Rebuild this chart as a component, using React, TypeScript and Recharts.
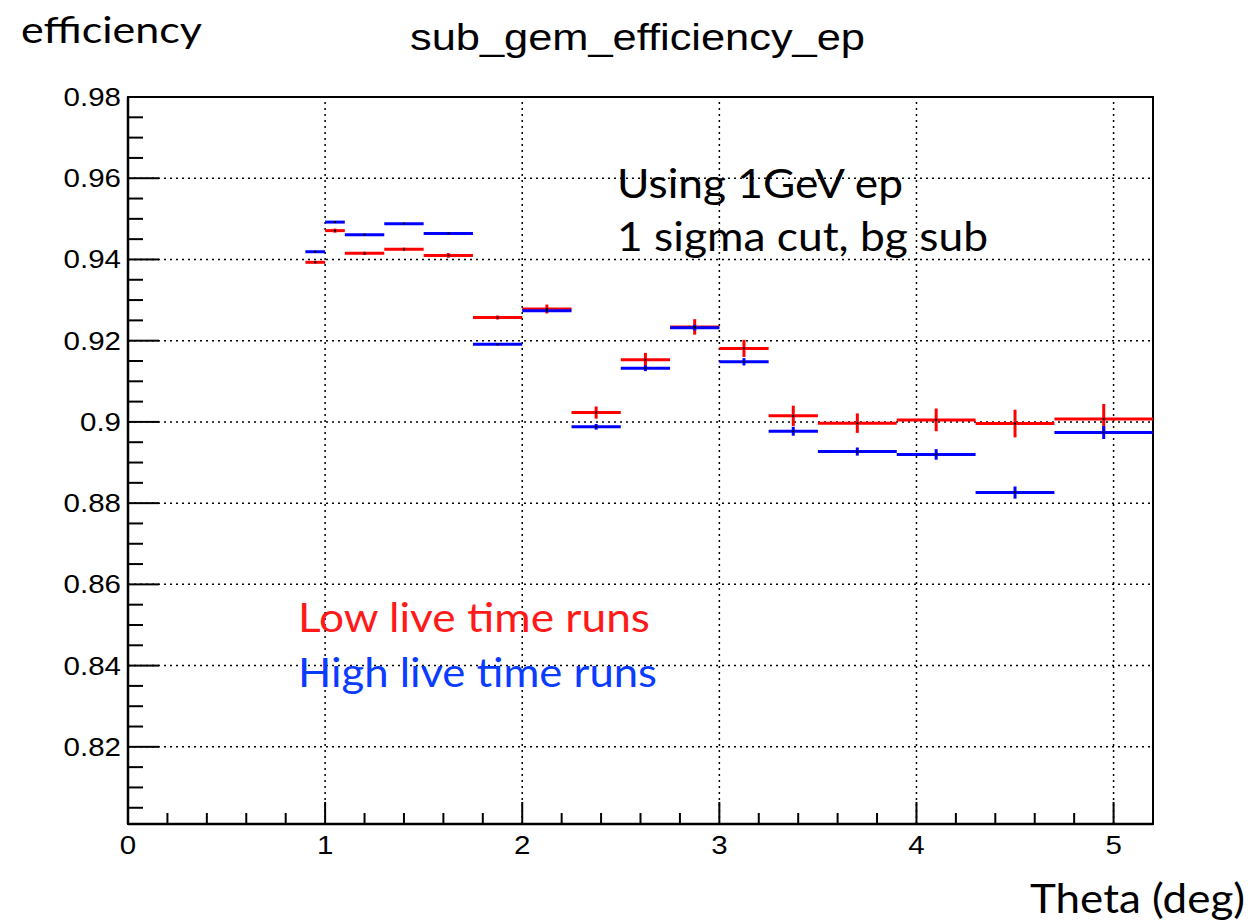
import React from 'react';
import {
  ComposedChart,
  Scatter,
  ErrorBar,
  XAxis,
  YAxis,
  ReferenceLine,
  ReferenceArea,
} from 'recharts';

// Bin edges of theta (deg)
const binEdges = [0.9, 1.0, 1.1, 1.3, 1.5, 1.75, 2.0, 2.25, 2.5, 2.75, 3.0, 3.25, 3.5, 3.9, 4.3, 4.7, 5.2];

// Low live time runs (red)
const lowLiveEff = [0.9393, 0.9471, 0.9415, 0.9425, 0.941, 0.9257, 0.9278, 0.9023, 0.9153, 0.9234, 0.9181, 0.9015, 0.8997, 0.9005, 0.8996, 0.9007];
const lowLiveErr = [0.0002, 0.0005, 0.0004, 0.0004, 0.0006, 0.0005, 0.0011, 0.0015, 0.0017, 0.0019, 0.0021, 0.0025, 0.0024, 0.0028, 0.0034, 0.0037];

// High live time runs (blue)
const highLiveEff = [0.9419, 0.9492, 0.9461, 0.9488, 0.9464, 0.9191, 0.9274, 0.8988, 0.9132, 0.9232, 0.9148, 0.8977, 0.8927, 0.892, 0.8826, 0.8974];
const highLiveErr = [0.0002, 0.0002, 0.0002, 0.0002, 0.0002, 0.0002, 0.0003, 0.0007, 0.0007, 0.0007, 0.0009, 0.0011, 0.001, 0.0013, 0.0015, 0.0016];

// Axis ticks
const xMajorTicks = [0, 1, 2, 3, 4, 5];
const yMajorTicks = [0.82, 0.84, 0.86, 0.88, 0.9, 0.92, 0.94, 0.96, 0.98];
const xMin = 0;
const xMax = 5.2;
const yMin = 0.801;
const yMax = 0.98;

const xTicks: number[] = [];
for (let i = 0; i <= 25; i++) xTicks.push(Number((i * 0.2).toFixed(3)));
const yTicks: number[] = [];
for (let i = 1; i <= 36; i++) yTicks.push(Number((0.8 + i * 0.005).toFixed(4)));

const buildData = (eff: number[], err: number[]) =>
  eff.map((v, i) => ({
    x: (binEdges[i] + binEdges[i + 1]) / 2,
    xerr: (binEdges[i + 1] - binEdges[i]) / 2,
    y: v,
    yerr: err[i],
  }));

const lowData = buildData(lowLiveEff, lowLiveErr);
const highData = buildData(highLiveEff, highLiveErr);

const RED = '#ff0000';
const BLUE = '#0000ff';
const HELV = '"Liberation Sans", Arial, Helvetica, sans-serif';
const CAL = 'Lato, "Open Sans", sans-serif';

const fmt = (v: number) => String(Number(v.toFixed(3)));

const YTick = (props: any) => {
  const { x, y, payload } = props;
  const v = payload.value as number;
  const major = Math.abs(v * 50 - Math.round(v * 50)) < 1e-6;
  return (
    <g>
      <line x1={x} x2={x + (major ? 31 : 15)} y1={y} y2={y} stroke="#000" strokeWidth={2} />
      {major && (
        <text
          transform={`translate(${x - 7},${y + 9}) scale(1.18,1)`}
          textAnchor="end"
          fontFamily={HELV}
          fontSize={25}
          fill="#000"
        >
          {fmt(v)}
        </text>
      )}
    </g>
  );
};

const XTick = (props: any) => {
  const { x, y, payload } = props;
  const v = payload.value as number;
  const major = Math.abs(v - Math.round(v)) < 1e-6;
  return (
    <g>
      <line x1={x} x2={x} y1={y} y2={y - (major ? 22 : 11)} stroke="#000" strokeWidth={2} />
      {major && (
        <text
          transform={`translate(${x},${y + 30}) scale(1.18,1)`}
          textAnchor="middle"
          fontFamily={HELV}
          fontSize={25}
          fill="#000"
        >
          {fmt(v)}
        </text>
      )}
    </g>
  );
};

const CenterDot = (props: any) => {
  const { cx, cy } = props;
  if (cx == null || cy == null) return <g />;
  return <rect x={cx - 1} y={cy - 1} width={2} height={2} fill="#000" />;
};

export default function App() {
  return (
    <div style={{ position: 'absolute', left: 0, top: 0, width: 1254, height: 923, background: '#fff' }}>
      <ComposedChart
        width={1254}
        height={923}
        margin={{ top: 97, right: 101, bottom: 0, left: 0 }}
      >
        <XAxis
          dataKey="x"
          type="number"
          domain={[xMin, xMax]}
          ticks={xTicks}
          tick={<XTick />}
          tickLine={false}
          tickSize={0}
          tickMargin={0}
          interval={0}
          allowDataOverflow
          height={99}
          axisLine={{ stroke: '#000', strokeWidth: 2.5 }}
        />
        <YAxis
          dataKey="y"
          type="number"
          domain={[yMin, yMax]}
          ticks={yTicks}
          tick={<YTick />}
          tickLine={false}
          tickSize={0}
          tickMargin={0}
          interval={0}
          allowDataOverflow
          width={128}
          axisLine={{ stroke: '#000', strokeWidth: 2.5 }}
        />
        <ReferenceArea
          x1={xMin}
          x2={xMax}
          y1={yMin}
          y2={yMax}
          fill="none"
          fillOpacity={0}
          stroke="#000"
          strokeWidth={2}
          ifOverflow="visible"
        />
        {xMajorTicks
          .filter((v) => v > xMin && v < xMax)
          .map((v) => (
            <ReferenceLine key={`vx${v}`} x={v} stroke="#000" strokeWidth={1.5} strokeDasharray="2 4" />
          ))}
        {yMajorTicks
          .filter((v) => v > yMin && v < yMax)
          .map((v) => (
            <ReferenceLine key={`hy${v}`} y={v} stroke="#000" strokeWidth={1.5} strokeDasharray="2 4" />
          ))}
        <Scatter data={lowData} dataKey="y" isAnimationActive={false} shape={<CenterDot />}>
          <ErrorBar dataKey="xerr" direction="x" width={0} stroke={RED} strokeWidth={3} isAnimationActive={false} />
          <ErrorBar dataKey="yerr" direction="y" width={0} stroke={RED} strokeWidth={3} isAnimationActive={false} />
        </Scatter>
        <Scatter data={highData} dataKey="y" isAnimationActive={false} shape={<CenterDot />}>
          <ErrorBar dataKey="xerr" direction="x" width={0} stroke={BLUE} strokeWidth={3} isAnimationActive={false} />
          <ErrorBar dataKey="yerr" direction="y" width={0} stroke={BLUE} strokeWidth={3} isAnimationActive={false} />
        </Scatter>
      </ComposedChart>
      <svg
        width={1254}
        height={923}
        style={{ position: 'absolute', left: 0, top: 0, pointerEvents: 'none' }}
      >
        <text x={21} y={43} fontFamily={CAL} fontSize={37} textLength={181} lengthAdjust="spacingAndGlyphs" fill="#000">
          efficiency
        </text>
        <text x={410} y={50} fontFamily={HELV} fontSize={37} textLength={455} lengthAdjust="spacingAndGlyphs" fill="#000">
          sub_gem_efficiency_ep
        </text>
        <text x={1030} y={913} fontFamily={CAL} fontSize={41} textLength={215} lengthAdjust="spacingAndGlyphs" fill="#000">
          Theta (deg)
        </text>
        <text x={617} y={198} fontFamily={CAL} fontSize={41} textLength={286} lengthAdjust="spacingAndGlyphs" fill="#000">
          Using 1GeV ep
        </text>
        <text x={617} y={251} fontFamily={CAL} fontSize={41} textLength={371} lengthAdjust="spacingAndGlyphs" fill="#000">
          1 sigma cut, bg sub
        </text>
        <text x={298} y={632} fontFamily={CAL} fontSize={41} textLength={352} lengthAdjust="spacingAndGlyphs" fill="#ff1a1a">
          Low live time runs
        </text>
        <text x={298} y={687} fontFamily={CAL} fontSize={41} textLength={359} lengthAdjust="spacingAndGlyphs" fill="#0a3cff">
          High live time runs
        </text>
      </svg>
    </div>
  );
}
